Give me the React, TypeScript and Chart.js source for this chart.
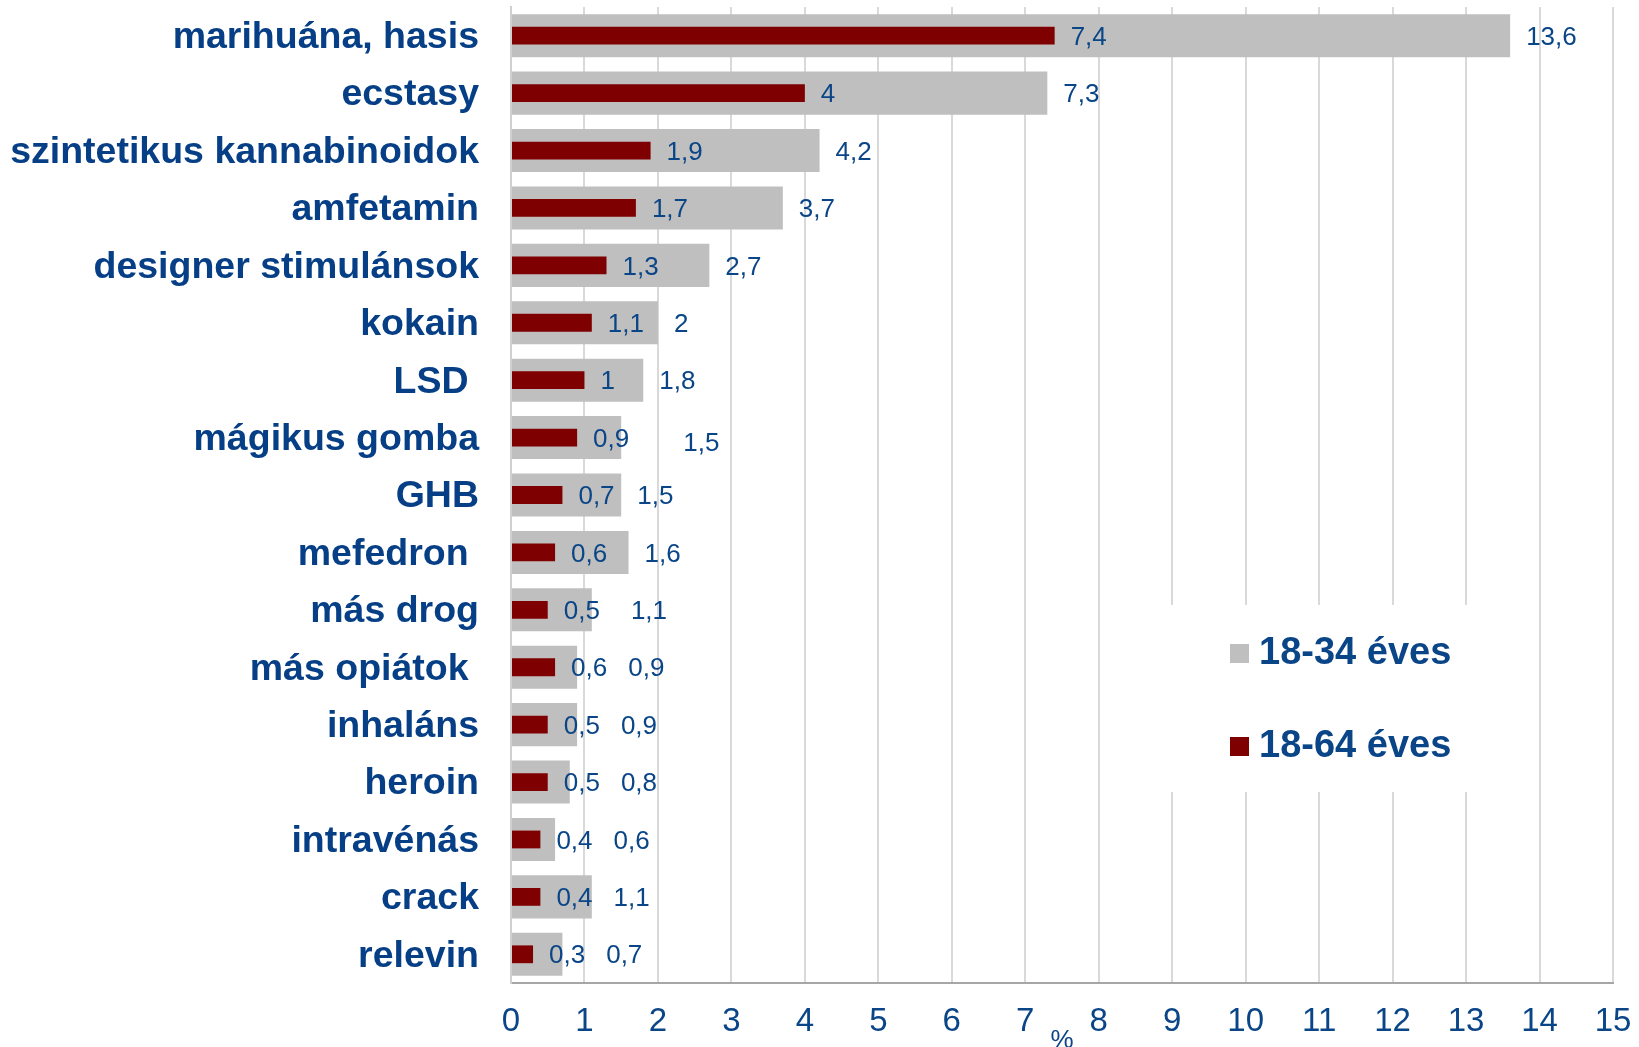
import React, { useEffect, useRef } from "react";
import { Chart, registerables } from "chart.js";

Chart.register(...registerables);

const categories = [
  "marihuána, hasis",
  "ecstasy",
  "szintetikus kannabinoidok",
  "amfetamin",
  "designer stimulánsok",
  "kokain",
  "LSD ",
  "mágikus gomba",
  "GHB",
  "mefedron ",
  "más drog",
  "más opiátok ",
  "inhaláns",
  "heroin",
  "intravénás",
  "crack",
  "relevin",
];

const series1834Label = "18-34 éves";
const series1834 = [13.6, 7.3, 4.2, 3.7, 2.7, 2, 1.8, 1.5, 1.5, 1.6, 1.1, 0.9, 0.9, 0.8, 0.6, 1.1, 0.7];

const series1864Label = "18-64 éves";
const series1864 = [7.4, 4, 1.9, 1.7, 1.3, 1.1, 1, 0.9, 0.7, 0.6, 0.5, 0.6, 0.5, 0.5, 0.4, 0.4, 0.3];

const xTicks = [0, 1, 2, 3, 4, 5, 6, 7, 8, 9, 10, 11, 12, 13, 14, 15];
const xAxisTitle = "%";

const GRAY = "#bfbfbf";
const RED = "#7f0000";
const TEXT = "#0a4587";
const LABEL = "#063f86";
const FONT = '"Liberation Sans", Arial, Helvetica, sans-serif';

const fmt = (v: number) => String(v).replace(".", ",");

// label placement style: gap after bar end, gap after neighbouring label, manual nudges
const LABEL_GAP = 16;
const LABEL_SEP = 21;
const GRAY_NUDGE: Record<number, [number, number]> = { 7: [33, 4], 10: [10, 0] };

const valueLabelPlugin = {
  id: "valueLabels",
  afterDatasetsDraw(chart: any) {
    const ctx = chart.ctx;
    ctx.save();
    ctx.font = `26px ${FONT}`;
    ctx.fillStyle = TEXT;
    ctx.textBaseline = "middle";
    ctx.textAlign = "left";
    const grayDs = chart.data.datasets[0];
    const redDs = chart.data.datasets[1];
    const grayMeta = chart.getDatasetMeta(0);
    const redMeta = chart.getDatasetMeta(1);
    redMeta.data.forEach((bar: any, i: number) => {
      const redText = fmt(redDs.data[i]);
      const redX = bar.x + LABEL_GAP;
      ctx.fillText(redText, redX, bar.y + 2);
      const redEnd = redX + ctx.measureText(redText).width;
      const gBar = grayMeta.data[i];
      const n = GRAY_NUDGE[i] || [0, 0];
      const gx = Math.max(gBar.x + LABEL_GAP, redEnd + LABEL_SEP) + n[0];
      ctx.fillText(fmt(grayDs.data[i]), gx, gBar.y + 2 + n[1]);
    });
    ctx.restore();
  },
};

const floatingLegendPlugin = {
  id: "floatingLegend",
  afterDraw(chart: any) {
    const ctx = chart.ctx;
    const ca = chart.chartArea;
    const boxLeft = ca.left + 649;
    const boxTop = ca.top + 598;
    ctx.save();
    ctx.fillStyle = "#ffffff";
    ctx.fillRect(boxLeft, boxTop, 360, 187);
    const items = [chart.data.datasets[0], chart.data.datasets[1]];
    ctx.font = `bold 38px ${FONT}`;
    ctx.textBaseline = "middle";
    ctx.textAlign = "left";
    items.forEach((ds: any, i: number) => {
      const cy = boxTop + 48 + i * 93;
      ctx.fillStyle = ds.backgroundColor;
      ctx.fillRect(boxLeft + 70, cy - 9, 19, 19);
      ctx.fillStyle = TEXT;
      ctx.fillText(ds.label, boxLeft + 99, cy + 1);
    });
    ctx.restore();
  },
};

export default function App() {
  const ref = useRef<HTMLCanvasElement | null>(null);

  useEffect(() => {
    if (!ref.current) return;
    const chart = new Chart(ref.current, {
      type: "bar",
      data: {
        labels: categories,
        datasets: [
          {
            label: series1834Label,
            data: series1834,
            backgroundColor: GRAY,
            grouped: false,
            order: 1,
            barPercentage: 0.75,
            categoryPercentage: 1,
          } as any,
          {
            label: series1864Label,
            data: series1864,
            backgroundColor: RED,
            grouped: false,
            order: 0,
            barPercentage: 0.31,
            categoryPercentage: 1,
          } as any,
        ],
      },
      options: {
        indexAxis: "y",
        responsive: false,
        animation: false,
        layout: { padding: { top: 7, right: 26, left: 0, bottom: 0 } },
        plugins: {
          legend: { display: false },
          tooltip: { enabled: false },
          title: { display: false },
        },
        scales: {
          x: {
            type: "linear",
            min: 0,
            max: 15,
            afterBuildTicks: (scale: any) => {
              scale.ticks = xTicks.map((v) => ({ value: v }));
            },
            afterFit: (scale: any) => {
              scale.height = 64;
              scale.paddingLeft = 0;
              scale.paddingRight = 0;
            },
            grid: {
              color: "#d9d9d9",
              lineWidth: 2,
              drawTicks: false,
            },
            border: { display: true, color: "#a6a6a6", width: 2 },
            ticks: {
              color: TEXT,
              font: { family: FONT, size: 33 },
              padding: 19,
              callback: (v: any) => String(v),
            },
            title: {
              display: true,
              text: xAxisTitle,
              color: TEXT,
              font: { family: FONT, size: 26 },
              padding: { top: 0, bottom: -9 },
            },
          },
          y: {
            afterFit: (scale: any) => {
              scale.width = 511;
              scale.paddingTop = 0;
              scale.paddingBottom = 0;
            },
            grid: { display: false, drawTicks: false },
            border: { display: true, color: "#d0d0d0", width: 2 },
            ticks: {
              color: LABEL,
              font: { family: FONT, size: 37.5, weight: "bold" },
              padding: 32,
              labelOffset: 2,
              autoSkip: false,
            },
          },
        },
      } as any,
      plugins: [valueLabelPlugin, floatingLegendPlugin],
    });
    return () => chart.destroy();
  }, []);

  return (
    <div style={{ position: "fixed", left: 0, top: 0, width: 1639, height: 1047, background: "#fff" }}>
      <canvas ref={ref} width={1639} height={1047} style={{ display: "block" }} />
    </div>
  );
}
